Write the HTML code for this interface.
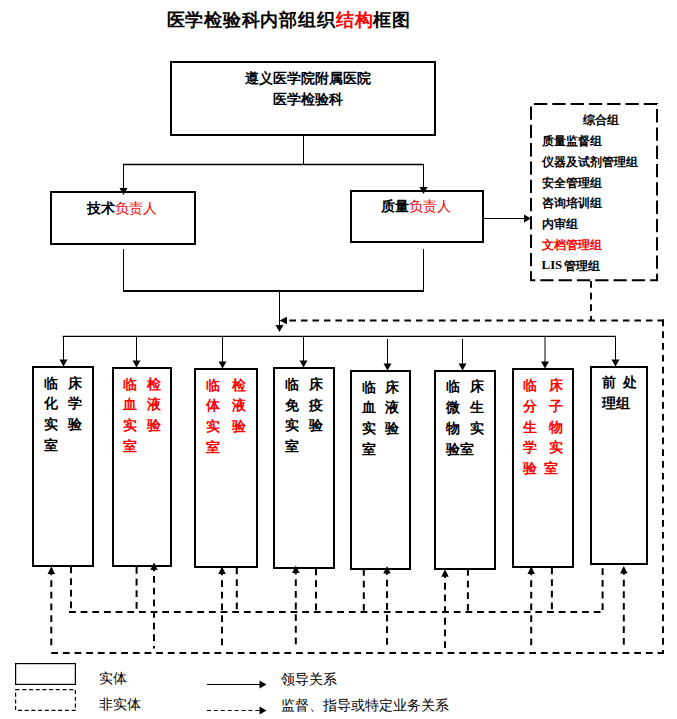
<!DOCTYPE html>
<html><head><meta charset="utf-8"><style>
html,body{margin:0;padding:0;background:#fff;width:677px;height:719px;overflow:hidden;}
body{position:relative;font-family:"Liberation Sans",sans-serif;}
svg{position:absolute;left:0;top:0;}
.t{position:absolute;white-space:nowrap;line-height:1;}
</style></head><body>
<svg width="677" height="719" viewBox="0 0 677 719">
<rect x="171.0" y="62.0" width="264" height="73" fill="none" stroke="#000" stroke-width="2"/>
<rect x="51.0" y="192.0" width="144" height="52" fill="none" stroke="#000" stroke-width="2"/>
<rect x="351.0" y="191.0" width="132" height="51" fill="none" stroke="#000" stroke-width="2"/>
<path d="M534,104 H657 V280.2 H531 V104" fill="none" stroke="#000" stroke-width="2" stroke-dasharray="13.3 5"/>
<rect x="33.0" y="367.0" width="60" height="199" fill="none" stroke="#000" stroke-width="2"/>
<rect x="113.0" y="368.0" width="58" height="198" fill="none" stroke="#000" stroke-width="2"/>
<rect x="195.0" y="369.0" width="62" height="198" fill="none" stroke="#000" stroke-width="2"/>
<rect x="274.0" y="368.0" width="60" height="200" fill="none" stroke="#000" stroke-width="2"/>
<rect x="351.0" y="371.0" width="59" height="198" fill="none" stroke="#000" stroke-width="2"/>
<rect x="435.0" y="371.0" width="60" height="198" fill="none" stroke="#000" stroke-width="2"/>
<rect x="513.0" y="369.0" width="60" height="198" fill="none" stroke="#000" stroke-width="2"/>
<rect x="591.0" y="367.0" width="56" height="197" fill="none" stroke="#000" stroke-width="2"/>
<line x1="303.5" y1="136" x2="303.5" y2="164" stroke="#000" stroke-width="1"/>
<line x1="123" y1="164.4" x2="424" y2="164.4" stroke="#000" stroke-width="1.5"/>
<line x1="123.5" y1="164" x2="123.5" y2="189" stroke="#000" stroke-width="1"/>
<polygon points="119.5,188 127.5,188 123.5,195" fill="#000"/>
<line x1="423.5" y1="164" x2="423.5" y2="188" stroke="#000" stroke-width="1"/>
<polygon points="419.5,187 427.5,187 423.5,194" fill="#000"/>
<line x1="123.5" y1="249" x2="123.5" y2="291" stroke="#000" stroke-width="1"/>
<line x1="423.5" y1="249" x2="423.5" y2="291" stroke="#000" stroke-width="1"/>
<line x1="123" y1="291" x2="424" y2="291" stroke="#000" stroke-width="2"/>
<line x1="279.5" y1="291" x2="279.5" y2="326" stroke="#000" stroke-width="1"/>
<polygon points="275.5,325 283.5,325 279.5,332" fill="#000"/>
<line x1="484" y1="218.5" x2="526" y2="218.5" stroke="#000" stroke-width="1"/>
<polygon points="524,214.5 524,222.5 531,218.5" fill="#000"/>
<line x1="62.5" y1="336.4" x2="615.5" y2="336.4" stroke="#000" stroke-width="1.4"/>
<line x1="63.5" y1="336" x2="63.5" y2="361.5" stroke="#000" stroke-width="1"/>
<polygon points="59.5,359.5 67.5,359.5 63.5,366.5" fill="#000"/>
<line x1="136.5" y1="336" x2="136.5" y2="362.5" stroke="#000" stroke-width="1"/>
<polygon points="132.5,360.5 140.5,360.5 136.5,367.5" fill="#000"/>
<line x1="222.5" y1="336" x2="222.5" y2="363.5" stroke="#000" stroke-width="1"/>
<polygon points="218.5,361.5 226.5,361.5 222.5,368.5" fill="#000"/>
<line x1="303.5" y1="336" x2="303.5" y2="362.5" stroke="#000" stroke-width="1"/>
<polygon points="299.5,360.5 307.5,360.5 303.5,367.5" fill="#000"/>
<line x1="387.5" y1="339" x2="387.5" y2="365.5" stroke="#000" stroke-width="1"/>
<polygon points="383.5,363.5 391.5,363.5 387.5,370.5" fill="#000"/>
<line x1="462.5" y1="339" x2="462.5" y2="365.5" stroke="#000" stroke-width="1"/>
<polygon points="458.5,363.5 466.5,363.5 462.5,370.5" fill="#000"/>
<line x1="545" y1="336" x2="545" y2="363.5" stroke="#000" stroke-width="1"/>
<polygon points="541.0,361.5 549.0,361.5 545,368.5" fill="#000"/>
<line x1="615.5" y1="336" x2="615.5" y2="361.5" stroke="#000" stroke-width="1"/>
<polygon points="611.5,359.5 619.5,359.5 615.5,366.5" fill="#000"/>
<path d="M591,281 V320.5" fill="none" stroke="#000" stroke-width="2" stroke-dasharray="6.8 4.86"/>
<path d="M664,320.5 H287" fill="none" stroke="#000" stroke-width="2" stroke-dasharray="6.6 4.9"/>
<path d="M663,319.5 V653" fill="none" stroke="#000" stroke-width="2" stroke-dasharray="6.7 5.1"/>
<polygon points="287.0,316.75 287.0,324.25 279.5,320.5" fill="#000"/>
<path d="M51.2,652.9 H664" fill="none" stroke="#000" stroke-width="2" stroke-dasharray="6.8 4.86"/>
<path d="M51.3,568.5 V648.5" fill="none" stroke="#000" stroke-width="2" stroke-dasharray="6.8 4.86"/>
<polygon points="47.55,574.0 55.05,574.0 51.3,566.5" fill="#000"/>
<path d="M154,564.4 V648.5" fill="none" stroke="#000" stroke-width="2" stroke-dasharray="6.8 4.86"/>
<polygon points="150.25,569.9 157.75,569.9 154,562.4" fill="#000"/>
<path d="M222,568.5 V648.5" fill="none" stroke="#000" stroke-width="2" stroke-dasharray="6.8 4.86"/>
<polygon points="218.25,574.0 225.75,574.0 222,566.5" fill="#000"/>
<path d="M295.8,567.6 V648.5" fill="none" stroke="#000" stroke-width="2" stroke-dasharray="6.8 4.86"/>
<polygon points="292.05,573.1 299.55,573.1 295.8,565.6" fill="#000"/>
<path d="M387,568 V648.5" fill="none" stroke="#000" stroke-width="2" stroke-dasharray="6.8 4.86"/>
<polygon points="383.25,573.5 390.75,573.5 387,566" fill="#000"/>
<path d="M445,571.2 V648.5" fill="none" stroke="#000" stroke-width="2" stroke-dasharray="6.8 4.86"/>
<polygon points="441.25,576.7 448.75,576.7 445,569.2" fill="#000"/>
<path d="M531.2,568.5 V648.5" fill="none" stroke="#000" stroke-width="2" stroke-dasharray="6.8 4.86"/>
<polygon points="527.45,574.0 534.95,574.0 531.2,566.5" fill="#000"/>
<path d="M623.8,568 V648.5" fill="none" stroke="#000" stroke-width="2" stroke-dasharray="6.8 4.86"/>
<polygon points="620.05,573.5 627.55,573.5 623.8,566" fill="#000"/>
<path d="M69,612.1 H601" fill="none" stroke="#000" stroke-width="2" stroke-dasharray="6.8 4.86"/>
<path d="M71,566.5 V611" fill="none" stroke="#000" stroke-width="2" stroke-dasharray="6.8 4.86"/>
<path d="M136.6,567 V611" fill="none" stroke="#000" stroke-width="2" stroke-dasharray="6.8 4.86"/>
<path d="M236.8,567.5 V611" fill="none" stroke="#000" stroke-width="2" stroke-dasharray="6.8 4.86"/>
<path d="M316,568.5 V611" fill="none" stroke="#000" stroke-width="2" stroke-dasharray="6.8 4.86"/>
<path d="M363.8,569 V611" fill="none" stroke="#000" stroke-width="2" stroke-dasharray="6.8 4.86"/>
<path d="M467.9,569 V611" fill="none" stroke="#000" stroke-width="2" stroke-dasharray="6.8 4.86"/>
<path d="M551.9,567.5 V611" fill="none" stroke="#000" stroke-width="2" stroke-dasharray="6.8 4.86"/>
<path d="M602.6,568.3 V611" fill="none" stroke="#000" stroke-width="2" stroke-dasharray="6.8 4.86"/>
<rect x="15.6" y="663.6" width="59.8" height="20.8" fill="none" stroke="#000" stroke-width="1.2"/>
<rect x="15.6" y="689.6" width="59.8" height="20.8" fill="none" stroke="#000" stroke-width="1.2" stroke-dasharray="4 2.7"/>
<line x1="207" y1="684.5" x2="260" y2="684.5" stroke="#000" stroke-width="1"/>
<polygon points="259.5,680.5 259.5,688.5 266.5,684.5" fill="#000"/>
<line x1="207" y1="710.5" x2="260" y2="710.5" stroke="#000" stroke-width="1.2" stroke-dasharray="4 2.9"/>
<polygon points="259.5,706.5 259.5,714.5 266.5,710.5" fill="#000"/>
</svg>
<div class="t" style="left:166.5px;top:10.5px;font-size:18.4px;font-weight:bold;color:#000;letter-spacing:0.8px">医学检验科内部组织<span style="color:#f00">结构</span>框图</div>
<div class="t" style="left:244.5px;top:71px;font-size:14px;font-weight:bold;color:#000;">遵义医学院附属医院</div>
<div class="t" style="left:272.5px;top:92px;font-size:14px;font-weight:bold;color:#000;">医学检验科</div>
<div class="t" style="left:87px;top:201px;font-size:14px;font-weight:bold;color:#000;">技术<span style="color:#f00;font-weight:500">负责人</span></div>
<div class="t" style="left:381px;top:198.7px;font-size:14px;font-weight:bold;color:#000;">质量<span style="color:#f00;font-weight:500">负责人</span></div>
<div class="t" style="left:583px;top:114px;font-size:12px;font-weight:bold;color:#000;">综合组</div>
<div class="t" style="left:542px;top:135.0px;font-size:12px;font-weight:bold;color:#000;">质量监督组</div>
<div class="t" style="left:542px;top:155.8px;font-size:12px;font-weight:bold;color:#000;">仪器及试剂管理组</div>
<div class="t" style="left:542px;top:176.6px;font-size:12px;font-weight:bold;color:#000;">安全管理组</div>
<div class="t" style="left:542px;top:197.4px;font-size:12px;font-weight:bold;color:#000;">咨询培训组</div>
<div class="t" style="left:542px;top:218.2px;font-size:12px;font-weight:bold;color:#000;">内审组</div>
<div class="t" style="left:542px;top:239.0px;font-size:12px;font-weight:bold;color:#000;"><span style="color:#f00">文档管理组</span></div>
<div class="t" style="left:541.6px;top:259.0px;font-size:12.8px;font-weight:bold;color:#000;font-family:'Liberation Serif',serif">LIS</div>
<div class="t" style="left:563.5px;top:259.8px;font-size:12px;font-weight:bold;color:#000;">管理组</div>
<div class="t" style="left:43.5px;top:375.6px;font-size:14px;font-weight:bold;color:#000;">临</div>
<div class="t" style="left:68px;top:375.6px;font-size:14px;font-weight:bold;color:#000;">床</div>
<div class="t" style="left:43.5px;top:396.40000000000003px;font-size:14px;font-weight:bold;color:#000;">化</div>
<div class="t" style="left:68px;top:396.40000000000003px;font-size:14px;font-weight:bold;color:#000;">学</div>
<div class="t" style="left:43.5px;top:417.20000000000005px;font-size:14px;font-weight:bold;color:#000;">实</div>
<div class="t" style="left:68px;top:417.20000000000005px;font-size:14px;font-weight:bold;color:#000;">验</div>
<div class="t" style="left:43.5px;top:438.0px;font-size:14px;font-weight:bold;color:#000;">室</div>
<div class="t" style="left:123.3px;top:376.5px;font-size:14px;font-weight:bold;color:#ff0000;">临</div>
<div class="t" style="left:147px;top:376.5px;font-size:14px;font-weight:bold;color:#ff0000;">检</div>
<div class="t" style="left:123.3px;top:397.3px;font-size:14px;font-weight:bold;color:#ff0000;">血</div>
<div class="t" style="left:147px;top:397.3px;font-size:14px;font-weight:bold;color:#ff0000;">液</div>
<div class="t" style="left:123.3px;top:418.1px;font-size:14px;font-weight:bold;color:#ff0000;">实</div>
<div class="t" style="left:147px;top:418.1px;font-size:14px;font-weight:bold;color:#ff0000;">验</div>
<div class="t" style="left:123.3px;top:438.9px;font-size:14px;font-weight:bold;color:#ff0000;">室</div>
<div class="t" style="left:205.6px;top:377.5px;font-size:14px;font-weight:bold;color:#ff0000;">临</div>
<div class="t" style="left:231.5px;top:377.5px;font-size:14px;font-weight:bold;color:#ff0000;">检</div>
<div class="t" style="left:205.6px;top:398.3px;font-size:14px;font-weight:bold;color:#ff0000;">体</div>
<div class="t" style="left:231.5px;top:398.3px;font-size:14px;font-weight:bold;color:#ff0000;">液</div>
<div class="t" style="left:205.6px;top:419.1px;font-size:14px;font-weight:bold;color:#ff0000;">实</div>
<div class="t" style="left:231.5px;top:419.1px;font-size:14px;font-weight:bold;color:#ff0000;">验</div>
<div class="t" style="left:205.6px;top:439.9px;font-size:14px;font-weight:bold;color:#ff0000;">室</div>
<div class="t" style="left:284.5px;top:376.8px;font-size:14px;font-weight:bold;color:#000;">临</div>
<div class="t" style="left:309.2px;top:376.8px;font-size:14px;font-weight:bold;color:#000;">床</div>
<div class="t" style="left:284.5px;top:397.6px;font-size:14px;font-weight:bold;color:#000;">免</div>
<div class="t" style="left:309.2px;top:397.6px;font-size:14px;font-weight:bold;color:#000;">疫</div>
<div class="t" style="left:284.5px;top:418.40000000000003px;font-size:14px;font-weight:bold;color:#000;">实</div>
<div class="t" style="left:309.2px;top:418.40000000000003px;font-size:14px;font-weight:bold;color:#000;">验</div>
<div class="t" style="left:284.5px;top:439.20000000000005px;font-size:14px;font-weight:bold;color:#000;">室</div>
<div class="t" style="left:361.6px;top:379.5px;font-size:14px;font-weight:bold;color:#000;">临</div>
<div class="t" style="left:385.2px;top:379.5px;font-size:14px;font-weight:bold;color:#000;">床</div>
<div class="t" style="left:361.6px;top:400.3px;font-size:14px;font-weight:bold;color:#000;">血</div>
<div class="t" style="left:385.2px;top:400.3px;font-size:14px;font-weight:bold;color:#000;">液</div>
<div class="t" style="left:361.6px;top:421.1px;font-size:14px;font-weight:bold;color:#000;">实</div>
<div class="t" style="left:385.2px;top:421.1px;font-size:14px;font-weight:bold;color:#000;">验</div>
<div class="t" style="left:361.6px;top:441.9px;font-size:14px;font-weight:bold;color:#000;">室</div>
<div class="t" style="left:445.9px;top:379.3px;font-size:14px;font-weight:bold;color:#000;">临</div>
<div class="t" style="left:470.2px;top:379.3px;font-size:14px;font-weight:bold;color:#000;">床</div>
<div class="t" style="left:445.9px;top:400.1px;font-size:14px;font-weight:bold;color:#000;">微</div>
<div class="t" style="left:470.2px;top:400.1px;font-size:14px;font-weight:bold;color:#000;">生</div>
<div class="t" style="left:445.9px;top:420.90000000000003px;font-size:14px;font-weight:bold;color:#000;">物</div>
<div class="t" style="left:470.2px;top:420.90000000000003px;font-size:14px;font-weight:bold;color:#000;">实</div>
<div class="t" style="left:445.9px;top:441.70000000000005px;font-size:14px;font-weight:bold;color:#000;">验室</div>
<div class="t" style="left:523.4px;top:378.0px;font-size:14px;font-weight:bold;color:#ff0000;">临</div>
<div class="t" style="left:549.2px;top:378.0px;font-size:14px;font-weight:bold;color:#ff0000;">床</div>
<div class="t" style="left:523.4px;top:398.8px;font-size:14px;font-weight:bold;color:#ff0000;">分</div>
<div class="t" style="left:549.2px;top:398.8px;font-size:14px;font-weight:bold;color:#ff0000;">子</div>
<div class="t" style="left:523.4px;top:419.6px;font-size:14px;font-weight:bold;color:#ff0000;">生</div>
<div class="t" style="left:549.2px;top:419.6px;font-size:14px;font-weight:bold;color:#ff0000;">物</div>
<div class="t" style="left:523.4px;top:440.4px;font-size:14px;font-weight:bold;color:#ff0000;">学</div>
<div class="t" style="left:549.2px;top:440.4px;font-size:14px;font-weight:bold;color:#ff0000;">实</div>
<div class="t" style="left:523.4px;top:461.2px;font-size:14px;font-weight:bold;color:#ff0000;">验</div>
<div class="t" style="left:544.2px;top:461.2px;font-size:14px;font-weight:bold;color:#ff0000;">室</div>
<div class="t" style="left:601.5px;top:375.3px;font-size:14px;font-weight:bold;color:#000;">前</div>
<div class="t" style="left:623px;top:375.3px;font-size:14px;font-weight:bold;color:#000;">处</div>
<div class="t" style="left:601.5px;top:396.1px;font-size:14px;font-weight:bold;color:#000;">理组</div>
<div class="t" style="left:99px;top:671px;font-size:14px;font-weight:500;color:#000;">实体</div>
<div class="t" style="left:99px;top:697px;font-size:14px;font-weight:500;color:#000;">非实体</div>
<div class="t" style="left:281px;top:671.5px;font-size:14px;font-weight:500;color:#000;">领导关系</div>
<div class="t" style="left:281px;top:697.5px;font-size:14px;font-weight:500;color:#000;">监督、指导或特定业务关系</div>
</body></html>
